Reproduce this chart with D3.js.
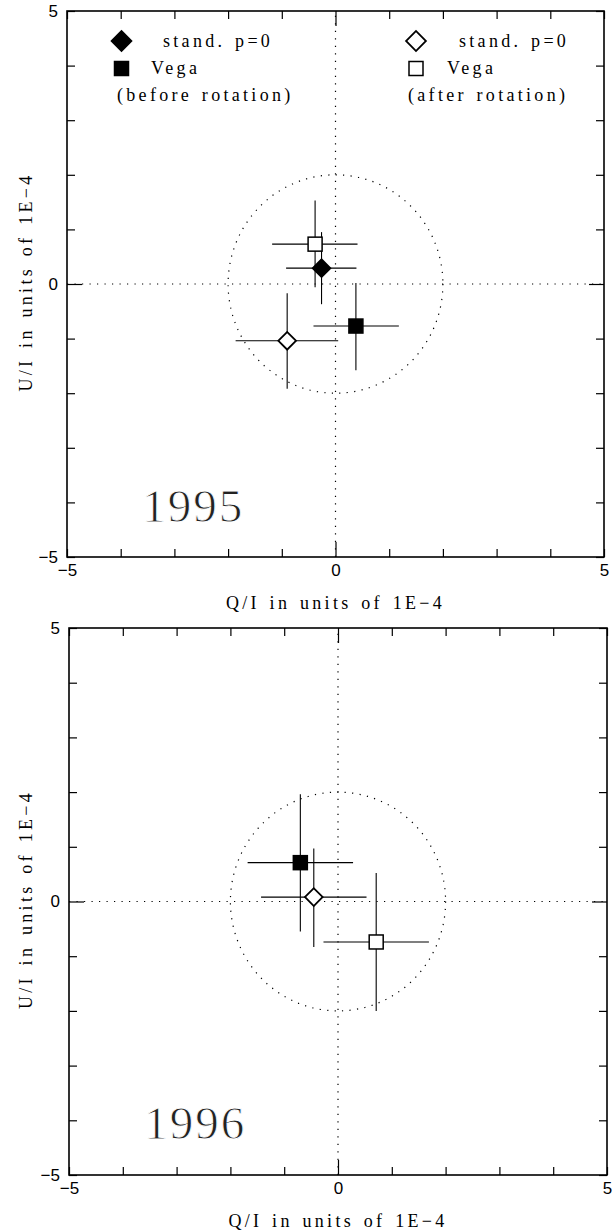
<!DOCTYPE html>
<html>
<head>
<meta charset="utf-8">
<script src="https://cdn.jsdelivr.net/npm/d3@7"></script>
<style>
  body { margin: 0; background: #fff; }
  svg { display: block; }
</style>
</head>
<body>
<div id="chart"></div>
<script>
// Data (Q/I and U/I in units of 1E-4)
const seriesNames = ["stand. p=0 (before)", "Vega (before)", "stand. p=0 (after)", "Vega (after)"];
const seriesShape = ["diamond", "square", "diamond", "square"];
const seriesFilled = [true, true, false, false];

const q1995 = [-0.26, 0.38, -0.90, -0.38];
const qLo1995 = [-0.92, -0.41, -1.86, -1.18];
const qHi1995 = [0.39, 1.18, 0.05, 0.41];
const u1995 = [0.29, -0.77, -1.04, 0.73];
const uLo1995 = [-0.37, -1.58, -1.92, -0.06];
const uHi1995 = [0.95, 0.02, -0.17, 1.53];

// no "before" standard point drawn in 1996
const q1996 = [null, -0.70, -0.45, 0.71];
const qLo1996 = [null, -1.68, -1.43, -0.27];
const qHi1996 = [null, 0.28, 0.53, 1.69];
const u1996 = [null, 0.71, 0.08, -0.74];
const uLo1996 = [null, -0.55, -0.83, -2.00];
const uHi1996 = [null, 1.96, 0.97, 0.52];

const minorTicks = d3.range(-5, 6);
const labelTicks = [-5, 0, 5];
const circleRadius = 2;

const width = 613;
const height = 1232;

const svg = d3.select("#chart").append("svg")
  .attr("width", width)
  .attr("height", height);

const serif = "'Liberation Serif', 'DejaVu Serif', serif";
const sans = "'Liberation Sans', Arial, sans-serif";

const panels = [
  { year: "1995", left: 67, right: 604, top: 11, bottom: 557,
    q: q1995, qLo: qLo1995, qHi: qHi1995, u: u1995, uLo: uLo1995, uHi: uHi1995, legend: true },
  { year: "1996", left: 69, right: 607, top: 628, bottom: 1175,
    q: q1996, qLo: qLo1996, qHi: qHi1996, u: u1996, uLo: uLo1996, uHi: uHi1996, legend: false }
];

const fmt = d => (d < 0 ? "\u2212" + Math.abs(d) : String(d));

function marker(g, shape, filled, cx, cy, side) {
  if (shape === "square") {
    g.append("rect")
      .attr("x", cx - side / 2)
      .attr("y", cy - side / 2)
      .attr("width", side)
      .attr("height", side)
      .attr("fill", filled ? "#000" : "#fff")
      .attr("stroke", "#000")
      .attr("stroke-width", 1.5);
  } else {
    g.append("path")
      .attr("d", d3.symbol(d3.symbolSquare, side * side)())
      .attr("transform", `translate(${cx},${cy}) rotate(45)`)
      .attr("fill", filled ? "#000" : "#fff")
      .attr("stroke", "#000")
      .attr("stroke-width", 1.8);
  }
}

// serif text in the wide, spaced style of the original plot
function wideText(sel) {
  return sel
    .attr("font-family", serif)
    .attr("font-size", 18)
    .attr("letter-spacing", 3.3)
    .attr("word-spacing", 2);
}

panels.forEach(p => {
  const x = d3.scaleLinear().domain([-5, 5]).range([p.left, p.right]);
  const y = d3.scaleLinear().domain([-5, 5]).range([p.bottom, p.top]);
  const g = svg.append("g");

  // dotted zero lines and p=2 circle
  g.append("line")
    .attr("x1", x(-5)).attr("x2", x(5))
    .attr("y1", y(0)).attr("y2", y(0))
    .attr("stroke", "#000").attr("stroke-width", 1.2)
    .attr("stroke-dasharray", "1.2,6.3");
  g.append("line")
    .attr("x1", x(0)).attr("x2", x(0))
    .attr("y1", y(-5)).attr("y2", y(5))
    .attr("stroke", "#000").attr("stroke-width", 1.2)
    .attr("stroke-dasharray", "1.2,6.3");
  g.append("ellipse")
    .attr("cx", x(0)).attr("cy", y(0))
    .attr("rx", x(circleRadius) - x(0))
    .attr("ry", y(0) - y(circleRadius))
    .attr("fill", "none")
    .attr("stroke", "#000").attr("stroke-width", 1.2)
    .attr("stroke-dasharray", "1.2,6.3");

  // minor ticks on all four sides (inward), longer tick at 0
  const sides = [
    { ax: d3.axisBottom(x), tr: `translate(0,${p.bottom})`, attr: "y2", big: -15 },
    { ax: d3.axisTop(x), tr: `translate(0,${p.top})`, attr: "y2", big: 15 },
    { ax: d3.axisLeft(y), tr: `translate(${p.left},0)`, attr: "x2", big: 15 },
    { ax: d3.axisRight(y), tr: `translate(${p.right},0)`, attr: "x2", big: -15 }
  ];
  sides.forEach(s => {
    const ag = g.append("g")
      .attr("transform", s.tr)
      .call(s.ax.tickValues(minorTicks).tickSize(-8).tickFormat(""));
    ag.select(".domain").remove();
    ag.selectAll(".tick line").attr("stroke", "#000").attr("stroke-width", 1.2);
    ag.selectAll(".tick").filter(d => d === 0).select("line").attr(s.attr, s.big);
  });

  // frame
  g.append("rect")
    .attr("x", p.left).attr("y", p.top)
    .attr("width", p.right - p.left).attr("height", p.bottom - p.top)
    .attr("fill", "none").attr("stroke", "#000").attr("stroke-width", 1.6);

  // tick labels
  const xl = g.append("g")
    .attr("transform", `translate(0,${p.bottom})`)
    .call(d3.axisBottom(x).tickValues(labelTicks).tickSize(0).tickPadding(7).tickFormat(fmt));
  xl.select(".domain").remove();
  xl.selectAll("text").attr("font-family", sans).attr("font-size", 17).attr("fill", "#000");

  const yl = g.append("g")
    .attr("transform", `translate(${p.left},0)`)
    .call(d3.axisLeft(y).tickValues(labelTicks).tickSize(0).tickPadding(9).tickFormat(fmt));
  yl.select(".domain").remove();
  yl.selectAll("text").attr("font-family", sans).attr("font-size", 17).attr("fill", "#000");

  // axis titles
  g.append("text")
    .attr("x", x(0))
    .attr("y", p.bottom + 52)
    .attr("text-anchor", "middle")
    .call(wideText)
    .text("Q/I in units of 1E\u22124");

  g.append("text")
    .attr("transform", `translate(32,${y(0) - 2}) rotate(-90)`)
    .attr("text-anchor", "middle")
    .call(wideText)
    .text("U/I in units of 1E\u22124");

  // error bars and markers
  seriesNames.forEach((name, i) => {
    if (p.q[i] == null) return;
    const cx = x(p.q[i]);
    const cy = y(p.u[i]);
    g.append("line")
      .attr("x1", x(p.qLo[i])).attr("x2", x(p.qHi[i]))
      .attr("y1", cy).attr("y2", cy)
      .attr("stroke", "#000").attr("stroke-width", 1.1);
    g.append("line")
      .attr("x1", cx).attr("x2", cx)
      .attr("y1", y(p.uLo[i])).attr("y2", y(p.uHi[i]))
      .attr("stroke", "#000").attr("stroke-width", 1.1);
    marker(g, seriesShape[i], seriesFilled[i], cx, cy, seriesShape[i] === "square" ? 14 : 12.5);
  });

  // year label (white stroke on top thins the glyphs)
  g.append("text")
    .attr("x", x(-3.6))
    .attr("y", y(-4.35))
    .attr("font-family", serif)
    .attr("font-size", 47)
    .attr("letter-spacing", 2)
    .attr("fill", "#222")
    .attr("stroke", "#fff")
    .attr("stroke-width", 0.9)
    .text(p.year);

  // legend
  if (p.legend) {
    const lg = g.append("g");
    const cols = [
      { mx: 121.5, tx: 163, vx: 151, tail: "(before rotation)", tailX: 117, filled: true },
      { mx: 416, tx: 459, vx: 447, tail: "(after rotation)", tailX: 408, filled: false }
    ];
    cols.forEach(c => {
      marker(lg, "diamond", c.filled, c.mx, 41, 14);
      lg.append("text").attr("x", c.tx).attr("y", 47).call(wideText).text("stand. p=0");
      marker(lg, "square", c.filled, c.mx, 68.5, 14);
      lg.append("text").attr("x", c.vx).attr("y", 74).call(wideText).text("Vega");
      lg.append("text").attr("x", c.tailX).attr("y", 101).call(wideText).text(c.tail);
    });
  }
});
</script>
</body>
</html>
